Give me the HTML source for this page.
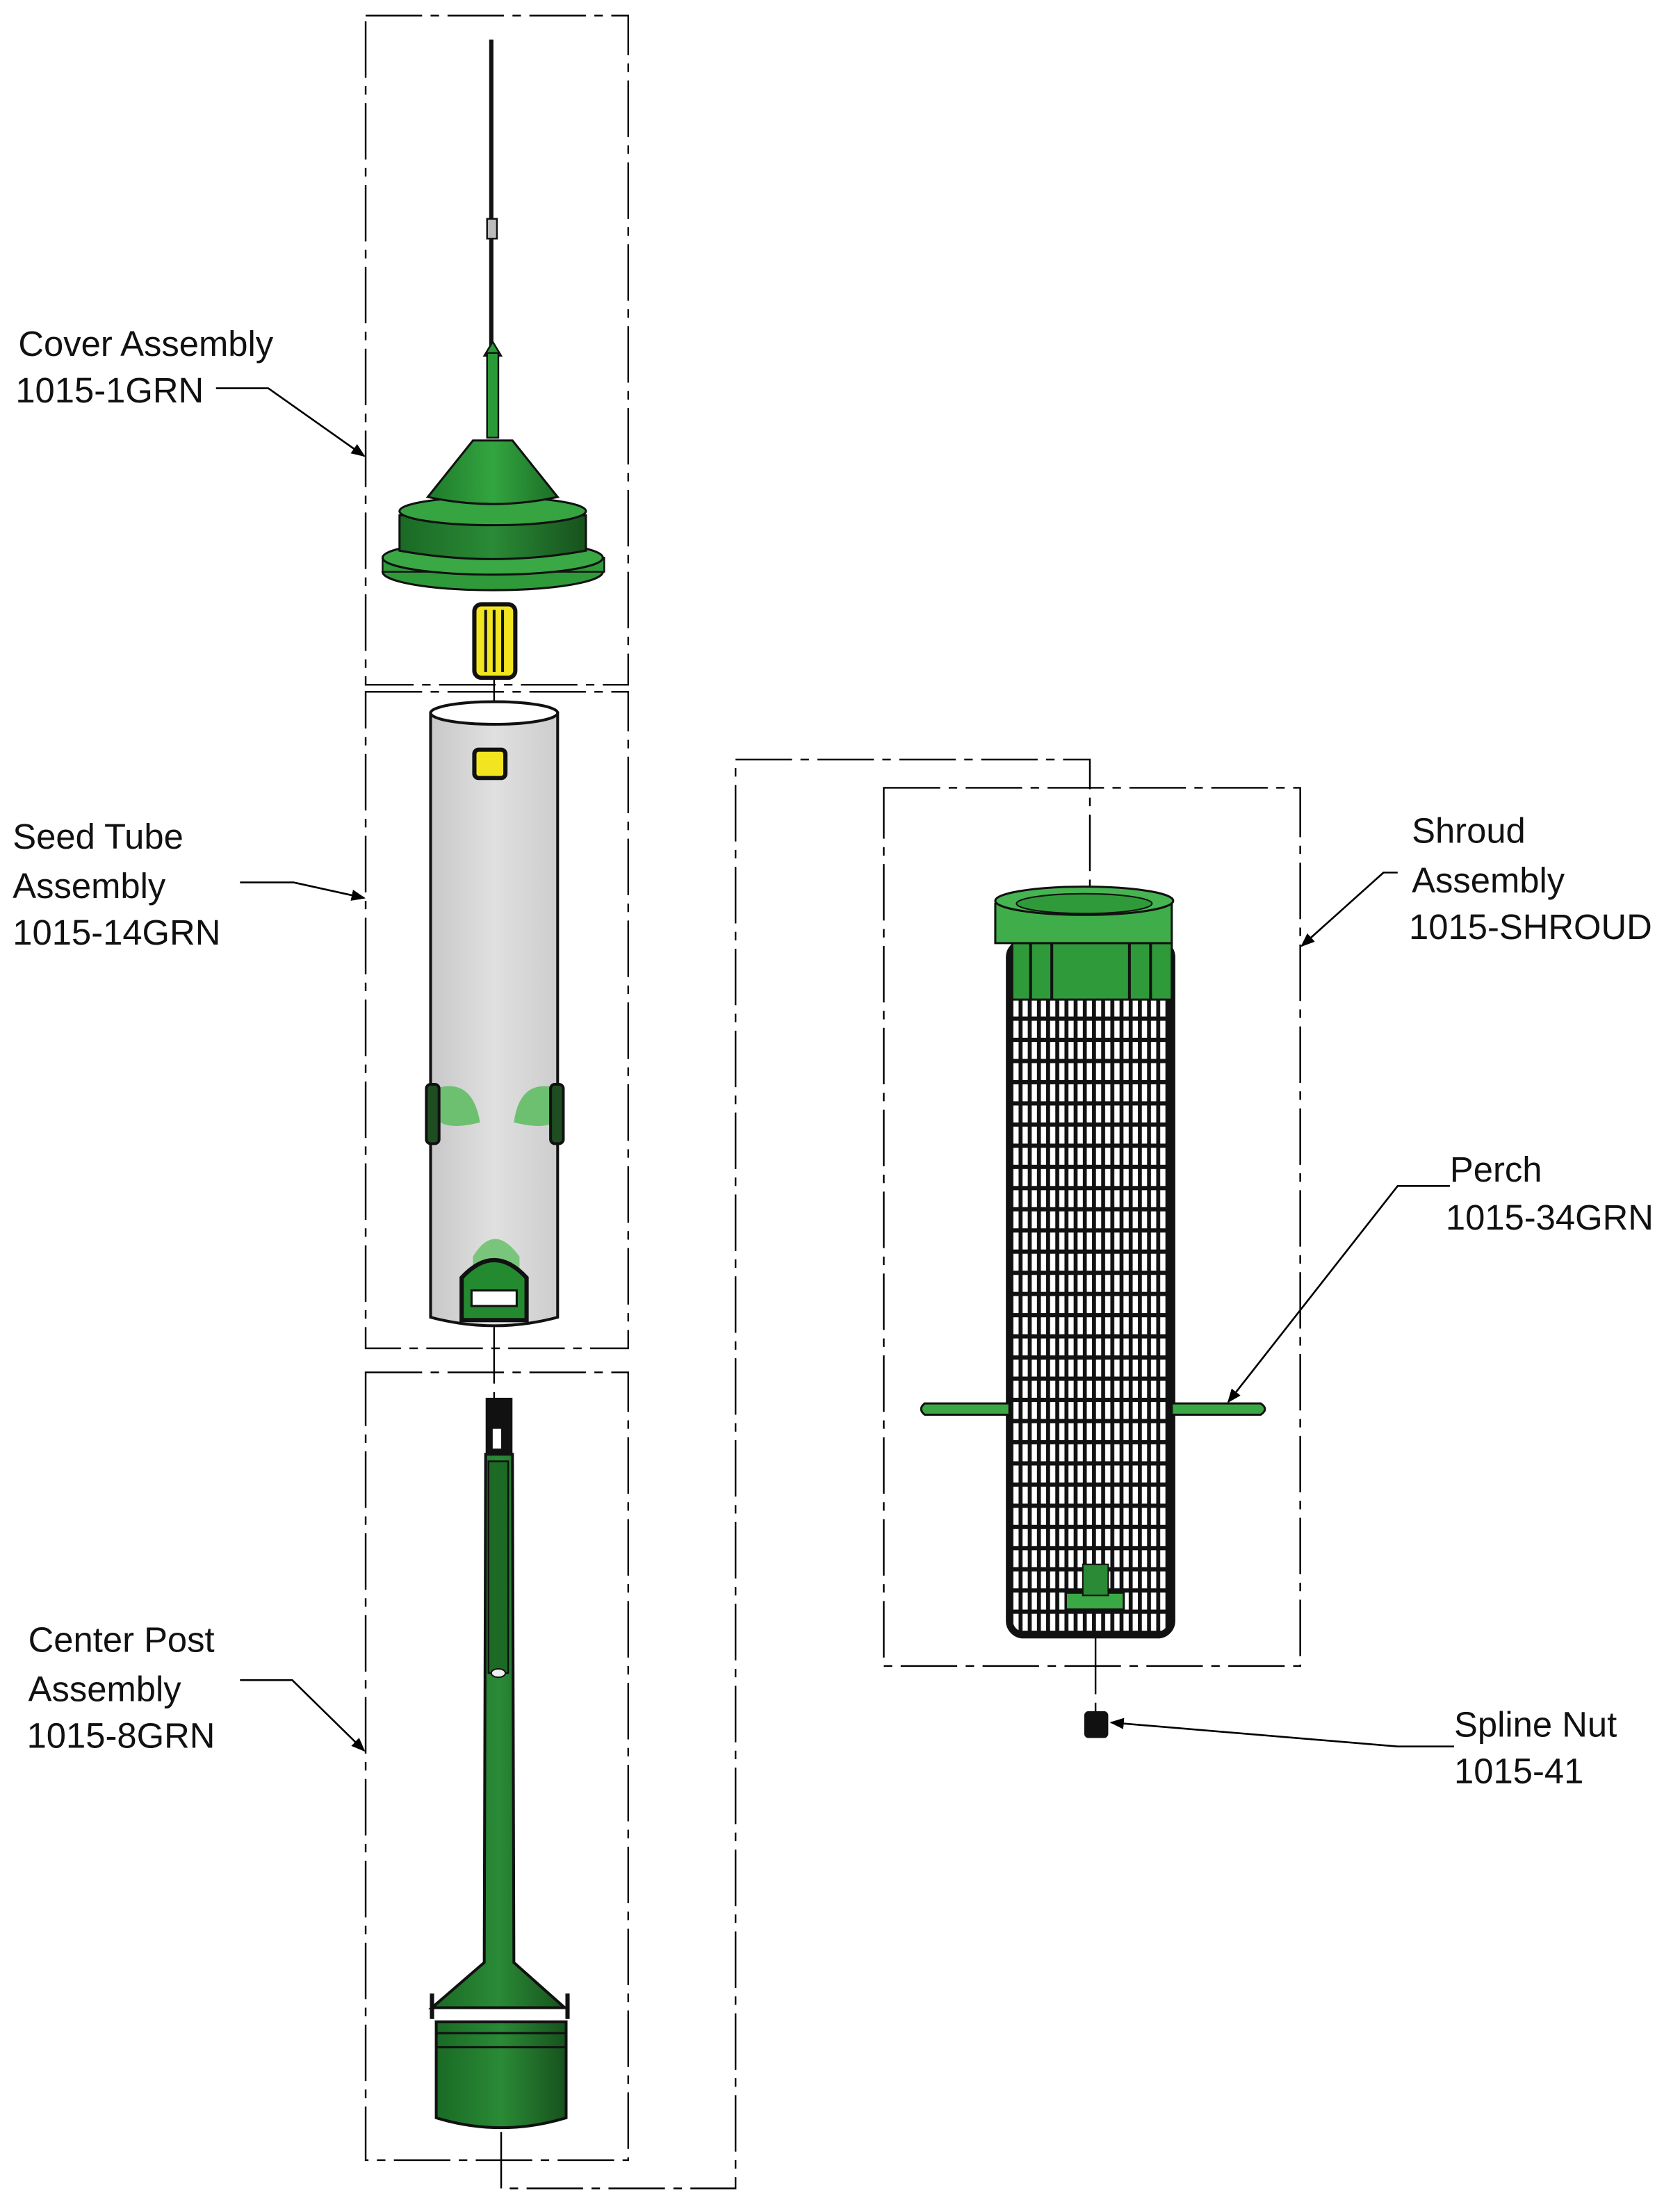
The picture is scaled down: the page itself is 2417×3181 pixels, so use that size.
<!DOCTYPE html>
<html><head><meta charset="utf-8"><style>
html,body{margin:0;padding:0;background:#fff}
svg{display:block}
text{font-family:"Liberation Sans",sans-serif;font-size:25px;fill:#111;font-weight:normal}
</style></head><body>
<svg width="2417" height="3181" viewBox="0 0 1190 1566" preserveAspectRatio="none" xmlns="http://www.w3.org/2000/svg">
<defs>
<marker id="ar" markerWidth="10" markerHeight="8" refX="9" refY="4" orient="auto" markerUnits="userSpaceOnUse"><path d="M0,0 L10,4 L0,8 Z" fill="#000"/></marker>
<pattern id="grid" x="0" y="0" width="6.5" height="15" patternUnits="userSpaceOnUse"><rect width="6.5" height="15" fill="#fff"/><rect x="0" y="0" width="2.8" height="15" fill="#111"/><rect x="0" y="0" width="6.5" height="3" fill="#111"/></pattern>
<linearGradient id="gr" x1="0" x2="1"><stop offset="0" stop-color="#1e7a2a"/><stop offset="0.5" stop-color="#33a540"/><stop offset="1" stop-color="#1c6e26"/></linearGradient>
<linearGradient id="gd" x1="0" x2="1"><stop offset="0" stop-color="#1a6a25"/><stop offset="0.5" stop-color="#2a8a36"/><stop offset="1" stop-color="#17521d"/></linearGradient>
<linearGradient id="gt" x1="0" x2="1"><stop offset="0" stop-color="#c8c8c8"/><stop offset="0.5" stop-color="#e0e0e0"/><stop offset="1" stop-color="#cdcdcd"/></linearGradient>
</defs>
<g fill="none" stroke="#000" stroke-width="1.2" stroke-dasharray="40,6,6,6">
<rect x="259" y="11" width="186" height="474"/>
<rect x="259" y="490" width="186" height="465"/>
<rect x="259" y="972" width="186" height="558"/>
<rect x="626" y="558" width="295" height="622"/>
<line x1="350" y1="480" x2="350" y2="505"/>
<line x1="350" y1="940" x2="350" y2="990"/>
<polyline points="355,1510 355,1550 521,1550 521,538 772,538 772,640"/>
<line x1="776" y1="1160" x2="776" y2="1212"/>
</g>
<!-- cover -->
<line x1="348" y1="28" x2="348" y2="245" stroke="#111" stroke-width="3"/>
<rect x="345" y="155" width="7" height="14" fill="#bbb" stroke="#111" stroke-width="1.2"/>
<path d="M343,252 L349,242 L355,252 Z" fill="#2a9a38" stroke="#111" stroke-width="1.2"/>
<rect x="345" y="250" width="8" height="60" fill="#2a9a38" stroke="#111" stroke-width="1.2"/>
<ellipse cx="349" cy="405" rx="78" ry="13" fill="#2f9a3a" stroke="#111" stroke-width="1.5"/>
<path d="M271,395 L428,395 L428,405 L271,405 Z" fill="#2f9a3a" stroke="#111" stroke-width="1.2"/>
<ellipse cx="349" cy="395" rx="78" ry="12" fill="#3aa845" stroke="#111" stroke-width="1.5"/>
<path d="M283,365 L415,365 L415,390 Q349,402 283,390 Z" fill="url(#gd)" stroke="#111" stroke-width="1.5"/>
<ellipse cx="349" cy="362" rx="66" ry="10" fill="#36a441" stroke="#111" stroke-width="1.5"/>
<path d="M335,312 L363,312 L395,352 Q349,362 303,352 Z" fill="url(#gr)" stroke="#111" stroke-width="1.5"/>
<rect x="336" y="428" width="29" height="52" rx="5" fill="#f2e520" stroke="#111" stroke-width="3"/>
<line x1="344" y1="432" x2="344" y2="476" stroke="#111" stroke-width="2"/><line x1="350" y1="432" x2="350" y2="476" stroke="#111" stroke-width="2"/><line x1="356" y1="432" x2="356" y2="476" stroke="#111" stroke-width="2"/>
<!-- seed tube -->
<path d="M305,505 L395,505 L395,933 Q350,945 305,933 Z" fill="url(#gt)" stroke="#111" stroke-width="2"/>
<ellipse cx="350" cy="505" rx="45" ry="8" fill="#fff" stroke="#111" stroke-width="2"/>
<rect x="336" y="531" width="22" height="20" rx="3" fill="#f2e520" stroke="#111" stroke-width="3"/>
<path d="M312,770 Q335,765 340,795 Q320,800 312,795 Z" fill="#6cc070"/>
<path d="M392,770 Q368,765 364,795 Q385,800 392,795 Z" fill="#6cc070"/>
<rect x="302" y="768" width="9" height="42" rx="3" fill="#1e4d22" stroke="#111" stroke-width="2"/>
<rect x="390" y="768" width="9" height="42" rx="3" fill="#1e4d22" stroke="#111" stroke-width="2"/>
<path d="M335,890 Q350,865 368,890 L368,935 L335,935 Z" fill="#7ac57c"/>
<path d="M327,935 L327,905 Q350,880 373,905 L373,935 Z" fill="#238a30" stroke="#111" stroke-width="3"/>
<rect x="334" y="914" width="32" height="11" fill="#fff" stroke="#111" stroke-width="1.5"/>
<!-- center post -->
<rect x="344" y="990" width="19" height="40" fill="#111"/>
<rect x="349" y="1012" width="6" height="14" fill="#fff"/>
<path d="M344,1030 L363,1030 L364,1390 L400,1422 L306,1422 L343,1390 Z" fill="url(#gd)" stroke="#111" stroke-width="2"/>
<rect x="346" y="1035" width="14" height="150" fill="#1c6a24" stroke="#111" stroke-width="1.2"/>
<ellipse cx="353" cy="1185" rx="5" ry="3" fill="#eee" stroke="#111"/>
<path d="M306,1412 L306,1430 M402,1412 L402,1430" stroke="#111" stroke-width="3"/>
<path d="M309,1432 L401,1432 L401,1500 Q355,1514 309,1500 Z" fill="url(#gd)" stroke="#111" stroke-width="2"/>
<line x1="309" y1="1440" x2="401" y2="1440" stroke="#111" stroke-width="1.5"/>
<line x1="309" y1="1450" x2="401" y2="1450" stroke="#111" stroke-width="1.5"/>
<!-- shroud -->
<rect x="715" y="668" width="115" height="490" rx="10" fill="url(#grid)" stroke="#111" stroke-width="5"/>
<path d="M655,994 L715,994 L715,1002 L655,1002 Q650,998 655,994 Z" fill="#3aa845" stroke="#111" stroke-width="1.5"/>
<path d="M830,994 L893,994 Q899,998 893,1002 L830,1002 Z" fill="#3aa845" stroke="#111" stroke-width="1.5"/>
<path d="M755,1128 L796,1128 L796,1140 L755,1140 Z" fill="#3aa845" stroke="#111" stroke-width="1.5"/>
<rect x="767" y="1108" width="18" height="22" fill="#2a8a36" stroke="#111"/>
<path d="M717,668 L830,668 L830,708 L717,708 Z" fill="#2f9a3a" stroke="#111" stroke-width="1.5"/>
<line x1="730" y1="668" x2="730" y2="708" stroke="#111" stroke-width="2"/><line x1="745" y1="668" x2="745" y2="708" stroke="#111" stroke-width="2"/><line x1="800" y1="668" x2="800" y2="708" stroke="#111" stroke-width="2"/><line x1="815" y1="668" x2="815" y2="708" stroke="#111" stroke-width="2"/>
<path d="M705,640 L830,640 L830,668 L705,668 Z" fill="#3fae4a" stroke="#111" stroke-width="1.5"/>
<ellipse cx="768" cy="638" rx="63" ry="10" fill="#46b450" stroke="#111" stroke-width="1.5"/>
<ellipse cx="768" cy="640" rx="48" ry="7" fill="#2f9a3a" stroke="#111" stroke-width="1"/>
<rect x="768" y="1212" width="17" height="19" rx="3" fill="#111"/>
<!-- leaders -->
<g stroke="#000" stroke-width="1.3" fill="none">
<polyline points="153,275 190,275 258,323" marker-end="url(#ar)"/>
<polyline points="170,625 208,625 258,636" marker-end="url(#ar)"/>
<polyline points="170,1190 207,1190 258,1240" marker-end="url(#ar)"/>
<polyline points="990,618 980,618 922,670" marker-end="url(#ar)"/>
<polyline points="1027,840 990,840 870,993" marker-end="url(#ar)"/>
<polyline points="1030,1237 990,1237 787,1220" marker-end="url(#ar)"/>
</g>
<text x="13" y="252">Cover Assembly</text>
<text x="11" y="285">1015-1GRN</text>
<text x="9" y="601">Seed Tube</text>
<text x="9" y="636">Assembly</text>
<text x="9" y="669">1015-14GRN</text>
<text x="20" y="1170">Center Post</text>
<text x="20" y="1205">Assembly</text>
<text x="19" y="1238">1015-8GRN</text>
<text x="1000" y="597">Shroud</text>
<text x="1000" y="632">Assembly</text>
<text x="998" y="665">1015-SHROUD</text>
<text x="1027" y="837">Perch</text>
<text x="1024" y="871">1015-34GRN</text>
<text x="1030" y="1230">Spline Nut</text>
<text x="1030" y="1263">1015-41</text>
</svg>
</body></html>
